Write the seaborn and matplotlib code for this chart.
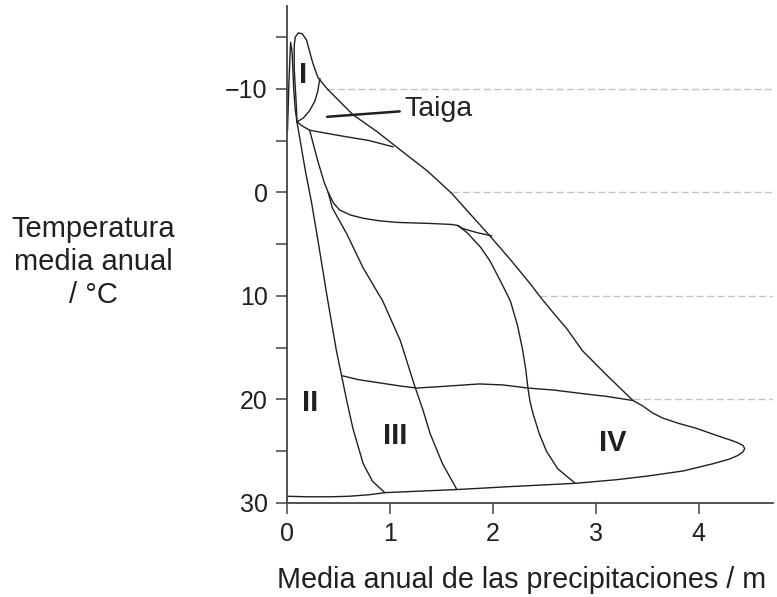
import matplotlib
matplotlib.use('Agg')
import matplotlib.pyplot as plt
import seaborn as sns

# --- datos (precipitacion en m, temperatura en °C) ---
outer_x = [0.0, 0.2, 0.42, 0.6, 0.8, 0.95, 1.3, 1.65, 2.2, 2.8, 3.2, 3.5, 3.85, 4.14, 4.3, 4.38,
           4.43, 4.445, 4.43, 4.37, 4.3, 4.15, 3.98, 3.80, 3.65, 3.55, 3.45, 3.36, 3.1, 2.87, 2.72,
           2.60, 2.46, 2.36, 2.17, 1.97, 1.78, 1.60, 1.36, 1.10, 0.87, 0.64, 0.39, 0.30, 0.25,
           0.19, 0.15, 0.11, 0.08, 0.07, 0.07, 0.08, 0.09, 0.097]
outer_y = [29.35, 29.4, 29.4, 29.35, 29.2, 29.0, 28.85, 28.7, 28.4, 28.1, 27.75, 27.4, 26.9, 26.2,
           25.75, 25.4, 25.05, 24.75, 24.45, 24.15, 23.9, 23.4, 22.8, 22.3, 21.8, 21.3, 20.6,
           20.1, 17.6, 15.3, 13.2, 11.8, 10.1, 8.8, 6.5, 4.2, 2.1, 0.1, -2.1, -4.1, -5.9, -7.5,
           -10.0, -11.1, -12.5, -14.7, -15.3, -15.4, -15.0, -14.2, -12.0, -10.2, -8.5, -6.8]

spike_x = [0.005, 0.02, 0.035, 0.05, 0.065, 0.08, 0.097]
spike_y = [-6.0, -11.0, -14.5, -13.5, -10.0, -8.0, -6.8]

taiga_top_x = [0.097, 0.16, 0.22, 0.27, 0.30, 0.31, 0.32]
taiga_top_y = [-6.8, -7.2, -7.9, -8.8, -9.8, -10.5, -11.0]

taiga_bot_x = [0.097, 0.15, 0.22, 0.5, 0.8, 1.03]
taiga_bot_y = [-6.8, -6.4, -6.0, -5.5, -5.0, -4.4]

line_a_x = [0.097, 0.18, 0.235, 0.30, 0.39, 0.48, 0.53, 0.58, 0.64, 0.74, 0.83, 0.95]
line_a_y = [-6.8, -2.0, 0.8, 4.6, 10.1, 15.3, 17.7, 20.1, 22.8, 26.2, 27.9, 29.0]

line_b_x = [0.22, 0.30, 0.36, 0.40, 0.44, 0.58, 0.74, 0.93, 1.10, 1.24, 1.32, 1.39, 1.51, 1.65]
line_b_y = [-6.0, -3.0, -1.0, 0.0, 1.5, 4.0, 7.3, 10.5, 14.3, 18.7, 21.0, 23.3, 26.2, 28.7]

line_c_x = [1.66, 1.75, 1.88, 1.97, 2.07, 2.17, 2.24, 2.29, 2.32, 2.34, 2.36, 2.39, 2.45, 2.52, 2.63, 2.80]
line_c_y = [3.2, 3.9, 5.3, 6.6, 8.5, 10.5, 12.9, 15.3, 17.2, 18.9, 20.2, 21.4, 23.3, 25.0, 26.7, 28.1]

h1_x = [0.40, 0.45, 0.51, 0.62, 0.74, 0.90, 1.07, 1.39, 1.60, 1.66, 1.71, 1.85, 1.99]
h1_y = [0.0, 1.0, 1.7, 2.2, 2.5, 2.75, 2.9, 3.0, 3.1, 3.2, 3.5, 3.9, 4.2]

h2_x = [0.53, 0.70, 0.90, 1.10, 1.26, 1.50, 1.87, 2.10, 2.34, 2.60, 2.84, 3.10, 3.36]
h2_y = [17.7, 18.1, 18.4, 18.7, 18.9, 18.75, 18.5, 18.6, 18.9, 19.1, 19.4, 19.7, 20.1]

grid_y = [-10, 0, 10, 20]
grid_x0 = [0.39, 1.60, 2.46, 3.36]

zone_labels = ['I', 'II', 'III', 'IV']
zone_x = [0.16, 0.22, 1.05, 3.16]
zone_y = [-11.3, 20.3, 23.5, 24.2]

x_ticks = [0, 1, 2, 3, 4]
y_ticks = [-10, 0, 10, 20, 30]
y_minor = [-15, -5, 5, 15, 25]

XMAX = 4.72
INK = '#231f20'

sns.set_theme(style='ticks')
plt.rcParams['font.family'] = ['Liberation Sans', 'DejaVu Sans']

fig = plt.figure(figsize=(7.77, 5.97), dpi=100)
ax = fig.add_axes([287 / 777, 1 - 503 / 597, (773 - 287) / 777, (503 - 6) / 597])

# lineas de referencia discontinuas
ax.hlines(grid_y, grid_x0, XMAX, colors='#c4c4c4', linestyles=(0, (5, 2.5)), lw=1.0, zorder=1)

curves = [(outer_x, outer_y), (spike_x, spike_y), (taiga_top_x, taiga_top_y),
          (taiga_bot_x, taiga_bot_y), (line_a_x, line_a_y), (line_b_x, line_b_y),
          (line_c_x, line_c_y), (h1_x, h1_y), (h2_x, h2_y)]
for cx, cy in curves:
    sns.lineplot(x=cx, y=cy, sort=False, estimator=None, color=INK, lw=1.0, ax=ax, zorder=2)

for lab, lx, ly in zip(zone_labels, zone_x, zone_y):
    ax.text(lx, ly, lab, fontsize=21, fontweight='bold', color=INK, ha='center', va='center')

ax.annotate('Taiga', xy=(0.39, -7.3), xytext=(1.14, -8.1), fontsize=20.5, color=INK,
            ha='left', va='center',
            arrowprops=dict(arrowstyle='-', lw=1.8, color=INK, shrinkA=1, shrinkB=0))

ax.set_xlim(0, XMAX)
ax.set_ylim(30, -18)
ax.set_xticks(x_ticks)
ax.set_yticks(y_ticks)
ax.set_yticks(y_minor, minor=True)
ax.tick_params(axis='both', which='both', direction='out', length=8, width=1.1,
               color='#444444', labelsize=18, labelcolor=INK, pad=6)
for s in ['top', 'right']:
    ax.spines[s].set_visible(False)
for s in ['left', 'bottom']:
    ax.spines[s].set_linewidth(1.3)
    ax.spines[s].set_color('#444444')

ax.set_xlabel('Media anual de las precipitaciones / m', fontsize=20.7, color=INK, va='center')
ax.xaxis.set_label_coords((522 - 287) / 486, (503 - 580) / 497)
ax.set_ylabel('Temperatura\nmedia anual\n/ °C', fontsize=21, color=INK, rotation=0,
              ha='center', va='center', linespacing=1.23)
ax.yaxis.set_label_coords((93 - 287) / 486, (503 - 262) / 497)

fig.savefig('out.png', dpi=100)
